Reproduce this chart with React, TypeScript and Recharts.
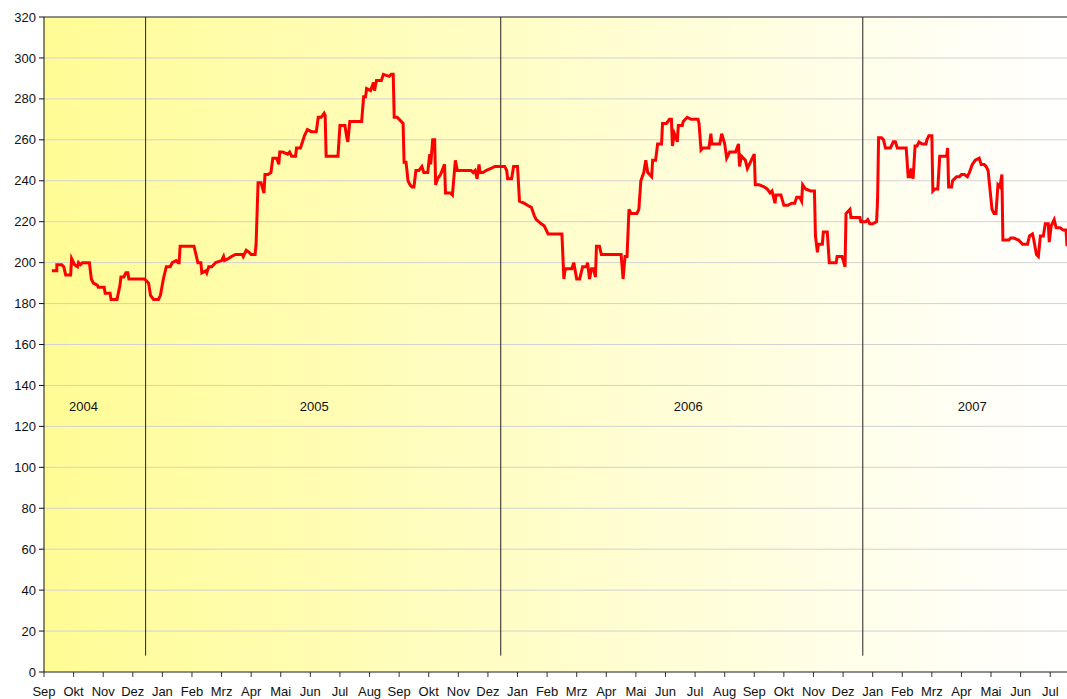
import React from "react";
import {
  LineChart,
  Line,
  XAxis,
  YAxis,
  CartesianGrid,
  ReferenceLine,
  ReferenceDot,
} from "recharts";

const MONTHS = [
  "Sep", "Okt", "Nov", "Dez",
  "Jan", "Feb", "Mrz", "Apr", "Mai", "Jun", "Jul", "Aug", "Sep", "Okt", "Nov", "Dez",
  "Jan", "Feb", "Mrz", "Apr", "Mai", "Jun", "Jul", "Aug", "Sep", "Okt", "Nov", "Dez",
  "Jan", "Feb", "Mrz", "Apr", "Mai", "Jun", "Jul",
];

const Y_TICKS = [0, 20, 40, 60, 80, 100, 120, 140, 160, 180, 200, 220, 240, 260, 280, 300, 320];

// year dividers and the year captions
const YEAR_BREAKS = ["2004-12-14", "2005-12-14", "2006-12-21"];
const YEAR_LABELS: [string, string][] = [
  ["2004", "2004-10-11"],
  ["2005", "2005-06-05"],
  ["2006", "2006-06-24"],
  ["2007", "2007-04-12"],
];

const PRICES_2004: [string, number][] = [
  ["2004-09-09", 196], ["2004-09-14", 196], ["2004-09-14", 199], ["2004-09-19", 199],
  ["2004-09-21", 198], ["2004-09-23", 194], ["2004-09-28", 194], ["2004-09-29", 202],
  ["2004-10-02", 199], ["2004-10-05", 198], ["2004-10-06", 200], ["2004-10-08", 199],
  ["2004-10-10", 200], ["2004-10-17", 200], ["2004-10-19", 192], ["2004-10-21", 190],
  ["2004-10-25", 189], ["2004-10-26", 188], ["2004-11-02", 188], ["2004-11-03", 185],
  ["2004-11-08", 185], ["2004-11-09", 182], ["2004-11-15", 182], ["2004-11-18", 189],
  ["2004-11-19", 193], ["2004-11-22", 193], ["2004-11-24", 195], ["2004-11-26", 195],
  ["2004-11-27", 192], ["2004-12-13", 192], ["2004-12-15", 191], ["2004-12-17", 190],
  ["2004-12-19", 184], ["2004-12-22", 182], ["2004-12-27", 182], ["2004-12-29", 184],
];

const PRICES_2005: [string, number][] = [
  ["2005-01-02", 192], ["2005-01-05", 198], ["2005-01-09", 198], ["2005-01-11", 200],
  ["2005-01-15", 201], ["2005-01-17", 200], ["2005-01-18", 200], ["2005-01-19", 208],
  ["2005-02-03", 208], ["2005-02-05", 204], ["2005-02-07", 200], ["2005-02-10", 200],
  ["2005-02-11", 195], ["2005-02-15", 196], ["2005-02-16", 195], ["2005-02-18", 198],
  ["2005-02-21", 198], ["2005-02-23", 199], ["2005-02-25", 200], ["2005-03-01", 201],
  ["2005-03-03", 203], ["2005-03-04", 201], ["2005-03-08", 202], ["2005-03-11", 203],
  ["2005-03-15", 204], ["2005-03-22", 204], ["2005-03-23", 203], ["2005-03-26", 206],
  ["2005-03-29", 205], ["2005-04-01", 204], ["2005-04-05", 204], ["2005-04-06", 209],
  ["2005-04-08", 239], ["2005-04-11", 239], ["2005-04-14", 234], ["2005-04-15", 243],
  ["2005-04-18", 243], ["2005-04-21", 244], ["2005-04-23", 251], ["2005-04-27", 251],
  ["2005-04-29", 248], ["2005-04-30", 254], ["2005-05-03", 254], ["2005-05-08", 253],
  ["2005-05-10", 254], ["2005-05-12", 252], ["2005-05-16", 252], ["2005-05-17", 256],
  ["2005-05-21", 256], ["2005-05-25", 262], ["2005-05-28", 265], ["2005-06-02", 264],
  ["2005-06-07", 264], ["2005-06-09", 271], ["2005-06-12", 271], ["2005-06-15", 273],
  ["2005-06-16", 272], ["2005-06-17", 252], ["2005-06-29", 252], ["2005-07-01", 267],
  ["2005-07-06", 267], ["2005-07-08", 261], ["2005-07-09", 259], ["2005-07-11", 269],
  ["2005-07-23", 269], ["2005-07-25", 281], ["2005-07-27", 281], ["2005-07-28", 285],
  ["2005-08-02", 284], ["2005-08-05", 288], ["2005-08-06", 284], ["2005-08-08", 289],
  ["2005-08-13", 289], ["2005-08-15", 292], ["2005-08-21", 291], ["2005-08-23", 292],
  ["2005-08-25", 292], ["2005-08-26", 271], ["2005-08-29", 271], ["2005-09-03", 269],
  ["2005-09-05", 268], ["2005-09-06", 249], ["2005-09-08", 249], ["2005-09-10", 240],
  ["2005-09-12", 238], ["2005-09-14", 237], ["2005-09-16", 237], ["2005-09-18", 245],
  ["2005-09-21", 245], ["2005-09-24", 247], ["2005-09-26", 244], ["2005-09-30", 244],
  ["2005-10-02", 253], ["2005-10-03", 248], ["2005-10-05", 260], ["2005-10-07", 260],
  ["2005-10-08", 238], ["2005-10-10", 241], ["2005-10-13", 243], ["2005-10-17", 248],
  ["2005-10-18", 234], ["2005-10-23", 234], ["2005-10-25", 233], ["2005-10-28", 250],
  ["2005-10-30", 245], ["2005-11-14", 245], ["2005-11-16", 244], ["2005-11-18", 245],
  ["2005-11-20", 241], ["2005-11-22", 248], ["2005-11-23", 244], ["2005-11-26", 244],
  ["2005-11-29", 245], ["2005-12-04", 246], ["2005-12-08", 247], ["2005-12-18", 247],
  ["2005-12-20", 245], ["2005-12-21", 241], ["2005-12-25", 241], ["2005-12-27", 247],
];

const PRICES_2006: [string, number][] = [
  ["2006-01-01", 247], ["2006-01-03", 230], ["2006-01-08", 229], ["2006-01-11", 228],
  ["2006-01-15", 227], ["2006-01-18", 223], ["2006-01-20", 221], ["2006-01-25", 219],
  ["2006-01-28", 218], ["2006-01-30", 216], ["2006-02-02", 214], ["2006-02-16", 214],
  ["2006-02-18", 192], ["2006-02-19", 196], ["2006-02-20", 197], ["2006-02-26", 197],
  ["2006-02-28", 200], ["2006-03-01", 192], ["2006-03-04", 192], ["2006-03-07", 198],
  ["2006-03-11", 198], ["2006-03-12", 200], ["2006-03-14", 192], ["2006-03-16", 197],
  ["2006-03-18", 197], ["2006-03-20", 193], ["2006-03-21", 208], ["2006-03-24", 208],
  ["2006-03-26", 204], ["2006-04-16", 204], ["2006-04-18", 192], ["2006-04-20", 203],
  ["2006-04-22", 203], ["2006-04-24", 226], ["2006-04-26", 224], ["2006-05-02", 224],
  ["2006-05-04", 226], ["2006-05-06", 240], ["2006-05-09", 244], ["2006-05-11", 250],
  ["2006-05-13", 244], ["2006-05-17", 242], ["2006-05-18", 250], ["2006-05-21", 250],
  ["2006-05-23", 258], ["2006-05-27", 258], ["2006-05-28", 268], ["2006-06-02", 268],
  ["2006-06-05", 270], ["2006-06-07", 270], ["2006-06-08", 257], ["2006-06-10", 263],
  ["2006-06-13", 259], ["2006-06-14", 267], ["2006-06-18", 267], ["2006-06-19", 269],
  ["2006-06-23", 271], ["2006-06-27", 270], ["2006-07-04", 270], ["2006-07-05", 268],
  ["2006-07-07", 255], ["2006-07-09", 256], ["2006-07-15", 256], ["2006-07-17", 263],
  ["2006-07-18", 258], ["2006-07-26", 258], ["2006-07-28", 263], ["2006-08-01", 258],
  ["2006-08-03", 251], ["2006-08-06", 254], ["2006-08-12", 254], ["2006-08-15", 258],
  ["2006-08-16", 247], ["2006-08-18", 252], ["2006-08-22", 250], ["2006-08-24", 246],
  ["2006-08-27", 249], ["2006-08-29", 251], ["2006-08-31", 253], ["2006-09-02", 238],
  ["2006-09-06", 238], ["2006-09-11", 237], ["2006-09-14", 236], ["2006-09-17", 234],
  ["2006-09-19", 235], ["2006-09-22", 229], ["2006-09-23", 233], ["2006-09-28", 233],
  ["2006-10-01", 228], ["2006-10-05", 228], ["2006-10-09", 229], ["2006-10-12", 229],
  ["2006-10-14", 232], ["2006-10-17", 232], ["2006-10-19", 230], ["2006-10-20", 238],
  ["2006-10-23", 236], ["2006-10-28", 235], ["2006-11-02", 235], ["2006-11-03", 213],
  ["2006-11-05", 205], ["2006-11-06", 209], ["2006-11-10", 209], ["2006-11-11", 215],
  ["2006-11-15", 215], ["2006-11-17", 200], ["2006-11-24", 200], ["2006-11-25", 203],
  ["2006-11-30", 203], ["2006-12-03", 198], ["2006-12-04", 224], ["2006-12-08", 226],
  ["2006-12-09", 222], ["2006-12-18", 222], ["2006-12-19", 220], ["2006-12-24", 220],
  ["2006-12-26", 221], ["2006-12-28", 219],
];

const PRICES_2007: [string, number][] = [
  ["2007-01-01", 219], ["2007-01-05", 220], ["2007-01-06", 231], ["2007-01-07", 261],
  ["2007-01-10", 261], ["2007-01-12", 260], ["2007-01-14", 256], ["2007-01-19", 256],
  ["2007-01-22", 259], ["2007-01-24", 259], ["2007-01-26", 256], ["2007-02-05", 256],
  ["2007-02-07", 242], ["2007-02-09", 242], ["2007-02-10", 246], ["2007-02-12", 241],
  ["2007-02-14", 257], ["2007-02-16", 257], ["2007-02-18", 259], ["2007-02-21", 258],
  ["2007-02-25", 258], ["2007-02-26", 260], ["2007-02-28", 262], ["2007-03-01", 262],
  ["2007-03-02", 235], ["2007-03-04", 236], ["2007-03-07", 236], ["2007-03-09", 252],
  ["2007-03-16", 252], ["2007-03-17", 256], ["2007-03-18", 237], ["2007-03-21", 237],
  ["2007-03-22", 240], ["2007-03-26", 242], ["2007-03-29", 242], ["2007-04-01", 243],
  ["2007-04-04", 243], ["2007-04-07", 242], ["2007-04-09", 244], ["2007-04-12", 248],
  ["2007-04-15", 250], ["2007-04-19", 251], ["2007-04-21", 248], ["2007-04-24", 248],
  ["2007-04-26", 247], ["2007-04-28", 245], ["2007-05-02", 226], ["2007-05-04", 224],
  ["2007-05-06", 224], ["2007-05-08", 238], ["2007-05-10", 237], ["2007-05-12", 243],
  ["2007-05-13", 211], ["2007-05-19", 211], ["2007-05-21", 212], ["2007-05-24", 212],
  ["2007-05-29", 211], ["2007-06-03", 209], ["2007-06-08", 209], ["2007-06-10", 213],
  ["2007-06-13", 214], ["2007-06-14", 212], ["2007-06-17", 204], ["2007-06-19", 203],
  ["2007-06-21", 213], ["2007-06-24", 213], ["2007-06-26", 219], ["2007-06-29", 219],
  ["2007-06-30", 210], ["2007-07-02", 218], ["2007-07-05", 221], ["2007-07-07", 217],
  ["2007-07-11", 217], ["2007-07-14", 216], ["2007-07-17", 216], ["2007-07-18", 208],
];

// months since Sep 2004, one category slot per month
function monthPos(date: string): number {
  const [y, m, d] = date.split("-").map(Number);
  return (y - 2004) * 12 + (m - 9) + (d - 1) / 30;
}

const FONT = "'Liberation Sans', Arial, Helvetica, sans-serif";

export default function App() {
  const data = [...PRICES_2004, ...PRICES_2005, ...PRICES_2006, ...PRICES_2007].map(
    ([date, price]) => ({ m: monthPos(date), price })
  );
  const monthTicks = MONTHS.map((_, i) => i);

  return (
    <div style={{ position: "absolute", left: 0, top: 0, background: "#fff" }}>
      <LineChart
        width={1067}
        height={699}
        data={data}
        margin={{ top: 17, right: 0, bottom: 0, left: 0 }}
        style={{ fontFamily: FONT }}
      >
        <defs>
          <linearGradient id="bgFade" x1="0" y1="0" x2="1" y2="0">
            <stop offset="0%" stopColor="#FFFC96" />
            <stop offset="100%" stopColor="#FFFFFF" />
          </linearGradient>
        </defs>
        <CartesianGrid
          vertical={false}
          stroke="#d2d2d2"
          fill="url(#bgFade)"
          fillOpacity={1}
        />
        <XAxis
          dataKey="m"
          type="number"
          domain={[0, "dataMax"]}
          ticks={monthTicks}
          interval={0}
          tickFormatter={(i: number) => MONTHS[i] ?? ""}
          height={27}
          tickSize={5}
          tickMargin={10}
          stroke="#333"
          tick={{ fontSize: 13, fill: "#111", fontFamily: FONT }}
          allowDataOverflow
        />
        <YAxis
          domain={[0, 320]}
          ticks={Y_TICKS}
          interval={0}
          width={44}
          tickSize={5}
          tickMargin={3}
          stroke="#111"
          tick={{ fontSize: 13, fill: "#111", fontFamily: FONT }}
        />
        <ReferenceLine y={320} stroke="#333" />
        {YEAR_BREAKS.map((d) => (
          <ReferenceLine
            key={d}
            segment={[
              { x: monthPos(d), y: 8 },
              { x: monthPos(d), y: 320 },
            ]}
            stroke="#222"
          />
        ))}
        {YEAR_LABELS.map(([year, d]) => (
          <ReferenceDot
            key={year}
            x={monthPos(d)}
            y={130}
            r={0}
            fill="none"
            stroke="none"
            label={{ value: year, position: "center", fontSize: 13, fill: "#111", fontFamily: FONT }}
          />
        ))}
        <Line
          type="linear"
          dataKey="price"
          stroke="#ff0000"
          strokeWidth={3}
          dot={false}
          activeDot={false}
          isAnimationActive={false}
        />
      </LineChart>
    </div>
  );
}
